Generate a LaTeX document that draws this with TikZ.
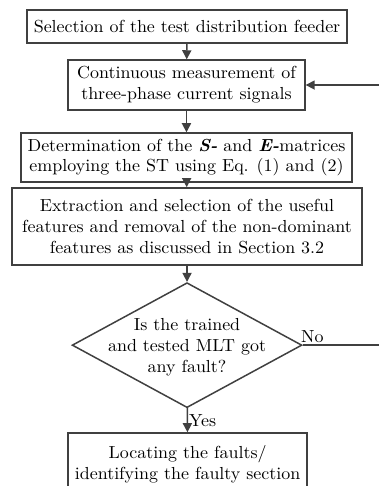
\documentclass[tikz,border=0pt]{standalone}
\usepackage{fontspec}
\setmainfont{lmroman10-regular.otf}[
  BoldFont=lmroman10-bold.otf,
  ItalicFont=lmroman10-italic.otf,
  BoldItalicFont=lmroman10-bolditalic.otf,
  FakeStretch=1.03]
\usetikzlibrary{positioning,arrows.meta,calc,shapes.geometric}

\begin{document}
\begin{tikzpicture}[
  font=\fontsize{17.5}{21}\selectfont,
  arr/.style={-{Triangle[length=3.2mm,width=3.2mm]}, line width=1.5pt, draw=black!75},
  stepbox/.style={draw=black!75, line width=1.5pt, align=center, inner sep=0pt},
  decision/.style={diamond, draw=black!75, line width=1.5pt, inner sep=0pt, minimum width=8.11cm, minimum height=4.41cm}
]
\useasboundingbox (0,0) rectangle (13.34,-17.15);

% Process steps
\node[stepbox, minimum width=11.29cm, minimum height=1.16cm] (feeder) at (6.6,-0.935) {Selection of the test distribution feeder};
\node[stepbox, minimum width=8.36cm, minimum height=1.76cm] (meas) at (6.58,-3.0) {Continuous measurement of\\three-phase current signals};
\node[stepbox, minimum width=11.68cm, minimum height=1.73cm] (matr) at (6.58,-5.56) {Determination of the \textbf{\textit{S-}} and \textbf{\textit{E-}}matrices\\employing the ST using Eq. (1) and (2)};
\node[stepbox, minimum width=12.35cm, minimum height=2.72cm] (feat) at (6.6,-7.99) {Extraction and selection of the useful\\features and removal of the non-dominant\\features as discussed in Section 3.2};

% Decision
\node[decision, label={[align=center, yshift=-2pt]center:Is the trained\\and tested MLT got\\any fault?}] (fault) at (6.6,-12.18) {};

% Result (runs off the bottom edge)
\node[stepbox, minimum width=8.43cm, minimum height=2.2cm] (locate) at (6.62,-16.38) {Locating the faults/\\identifying the faulty section};

\draw[arr] (feeder) -- (meas);
\draw[arr] (meas) -- (matr);
\draw[arr] (matr) -- (feat);
\draw[arr] (feat) -- (fault);
\draw[arr] (fault) -- node[right, inner sep=1pt] {Yes} (locate);

% Loop back when no fault is found
\coordinate (back) at (13.5,0);
\draw[arr] (fault.east) -- node[above, pos=0.12, inner sep=2pt] {No} (fault.east -| back) |- (meas.east);

\end{tikzpicture}
\end{document}
